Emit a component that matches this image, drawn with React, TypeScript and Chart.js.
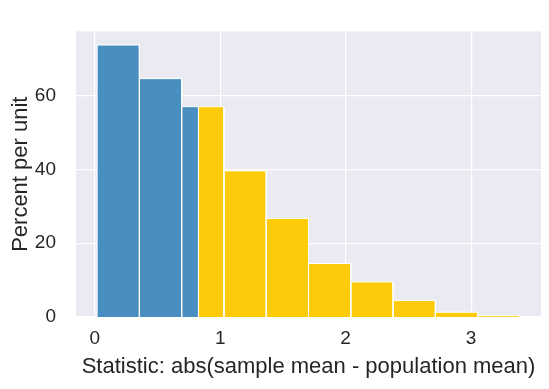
import React, { useEffect, useRef } from "react";
import { Chart, registerables } from "chart.js";

Chart.register(...registerables);

// Histogram bin edges (x) and heights (percent per unit)
const binEdges = [0.019, 0.356, 0.693, 1.03, 1.367, 1.704, 2.041, 2.378, 2.715, 3.052, 3.389];
const binPercent = [73.7, 64.6, 57.0, 39.6, 26.7, 14.5, 9.5, 4.5, 1.3, 0.35];
const splitValue = 0.827; // left of this: blue, right: yellow
const xTicks = [0, 1, 2, 3];
const yTicks = [0, 20, 40, 60];
const xTitle = "Statistic: abs(sample mean - population mean)";
const yTitle = "Percent per unit";

const BLUE = "rgb(72,142,193)";
const GOLD = "rgb(253,203,10)";
const TEXT = "#262626";
const FONT = "Liberation Sans, Arial, sans-serif";

function buildDatasets() {
  const parts: { lo: number; hi: number; h: number; color: string }[] = [];
  for (let i = 0; i < binPercent.length; i++) {
    const lo = binEdges[i];
    const hi = binEdges[i + 1];
    const h = binPercent[i];
    if (hi <= splitValue) parts.push({ lo, hi, h, color: BLUE });
    else if (lo >= splitValue) parts.push({ lo, hi, h, color: GOLD });
    else {
      parts.push({ lo, hi: splitValue, h, color: BLUE });
      parts.push({ lo: splitValue, hi, h, color: GOLD });
    }
  }
  return parts.map((p) => ({
    type: "line" as const,
    data: [
      { x: p.lo, y: 0 },
      { x: p.lo, y: p.h },
      { x: p.hi, y: p.h },
      { x: p.hi, y: 0 },
    ],
    showLine: true,
    fill: "origin",
    backgroundColor: p.color,
    borderColor: "#ffffff",
    borderWidth: 1,
    pointRadius: 0,
    tension: 0,
  }));
}

export default function App() {
  const ref = useRef<HTMLCanvasElement>(null);
  useEffect(() => {
    if (!ref.current) return;
    const bgPlugin = {
      id: "plotBg",
      beforeDraw(chart: any) {
        const { ctx, chartArea } = chart;
        ctx.save();
        ctx.fillStyle = "#EAEAF2";
        ctx.fillRect(chartArea.left, chartArea.top, chartArea.right - chartArea.left, chartArea.bottom - chartArea.top);
        ctx.restore();
      },
    };
    const chart = new Chart(ref.current, {
      type: "scatter",
      data: { datasets: buildDatasets() as any },
      options: {
        animation: false,
        responsive: false,
        maintainAspectRatio: false,
        layout: { padding: { left: 0, right: 8, top: 11, bottom: 0 } },
        plugins: { legend: { display: false }, tooltip: { enabled: false } },
        scales: {
          x: {
            type: "linear",
            min: -0.149,
            max: 3.557,
            afterBuildTicks: (scale: any) => {
              scale.ticks = xTicks.map((v) => ({ value: v }));
            },
            afterFit: (scale: any) => {
              scale.height = 72;
            },
            grid: { color: "#ffffff", lineWidth: 1.2, drawTicks: false },
            border: { display: false },
            ticks: {
              padding: 10,
              color: TEXT,
              font: { family: FONT, size: 19 },
              callback: (v: any) => String(v),
            },
            title: {
              display: true,
              text: xTitle,
              color: TEXT,
              font: { family: FONT, size: 22 },
              padding: { top: 2, bottom: 9 },
            },
          },
          y: {
            type: "linear",
            min: 0,
            max: 77.4,
            afterBuildTicks: (scale: any) => {
              scale.ticks = yTicks.map((v) => ({ value: v }));
            },
            afterFit: (scale: any) => {
              scale.width = 76;
            },
            grid: { color: "#ffffff", lineWidth: 1.2, drawTicks: false },
            border: { display: false },
            ticks: {
              padding: 20,
              color: TEXT,
              font: { family: FONT, size: 19 },
              callback: (v: any) => String(v),
            },
            title: {
              display: true,
              text: yTitle,
              color: TEXT,
              font: { family: FONT, size: 22 },
              padding: { top: 8, bottom: 0 },
            },
          },
        },
      },
      plugins: [bgPlugin],
    });
    return () => chart.destroy();
  }, []);
  return (
    <div style={{ position: "fixed", left: 0, top: 0, width: 549, height: 389, background: "#ffffff" }}>
      <canvas ref={ref} width={549} height={389} />
    </div>
  );
}
